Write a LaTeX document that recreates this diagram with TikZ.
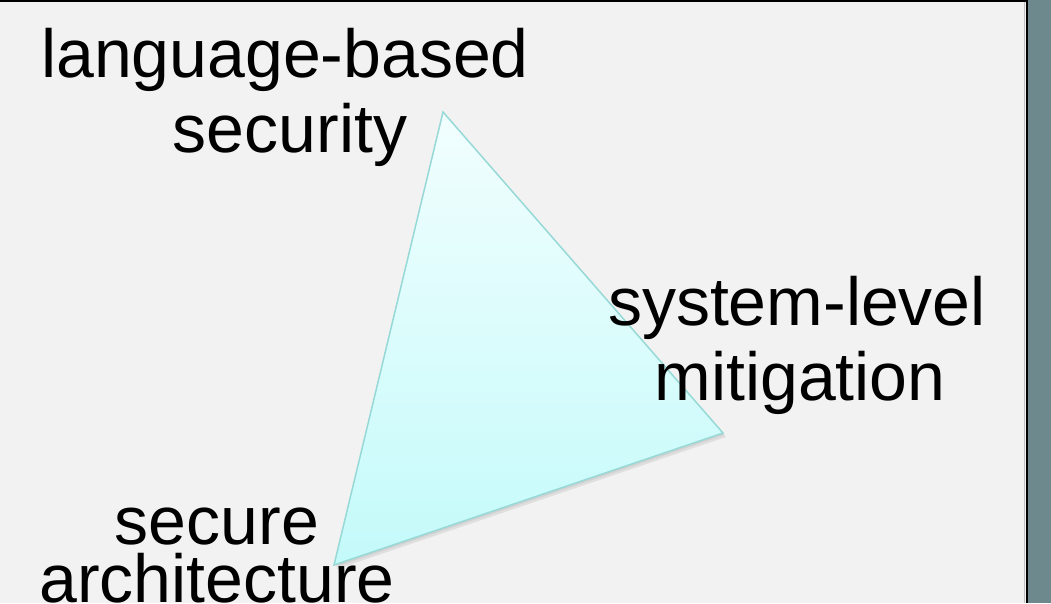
\documentclass[tikz,border=0pt]{standalone}
\usepackage{fontspec}
\setmainfont{Liberation Sans}
\definecolor{panelbg}{HTML}{F2F2F2}
\definecolor{sidebar}{HTML}{6E898E}
\definecolor{triTop}{HTML}{F2FEFE}
\definecolor{triBot}{HTML}{C4FAFA}
\definecolor{triEdge}{HTML}{96D9D7}
\tikzset{
  label text/.style={anchor=base, inner sep=0pt, font=\fontsize{68}{80}\selectfont, text=black},
}
\begin{document}
\begin{tikzpicture}[x=1pt,y=-1pt]
  \useasboundingbox (0,0) rectangle (1051,603);
  % panel and side bar
  \fill[panelbg] (0,0) rectangle (1051,603);
  \fill[sidebar] (1027,0) rectangle (1051,603);
  \draw[black!25, line width=1.2pt] (1024.6,0) -- (1024.6,603);
  \draw[black, line width=2pt] (1026.5,0) -- (1026.5,603);
  \draw[black, line width=2pt] (0,1) -- (1027.5,1);

  % triangle corners
  \coordinate (top) at (443,112);
  \coordinate (right) at (723,433);
  \coordinate (left) at (334,565);

  % soft shadow, then the shaded triangle
  \fill[black, opacity=0.08] ([shift={(3,4)}]top) -- ([shift={(3,4)}]right) -- ([shift={(3,4)}]left) -- cycle;
  \fill[black, opacity=0.06] ([shift={(1.5,2)}]top) -- ([shift={(1.5,2)}]right) -- ([shift={(1.5,2)}]left) -- cycle;
  \shade[top color=triTop, bottom color=triBot, draw=triEdge, line width=1.5pt, line join=miter]
    (top) -- (right) -- (left) -- cycle;

  % corner labels
  \node[label text] (lang1) at (285,77)  {language-based};
  \node[label text] (lang2) at (290,152) {security};
  \node[label text] (sys1)  at (797,325) {system-level};
  \node[label text] (sys2)  at (800,400) {mitigation};
  \node[label text, text depth=0pt] (arch1) at (217,544) {secure};
  \node[label text, text depth=0pt, text height=36pt] (arch2) at (217,602) {architecture};
\end{tikzpicture}
\end{document}
